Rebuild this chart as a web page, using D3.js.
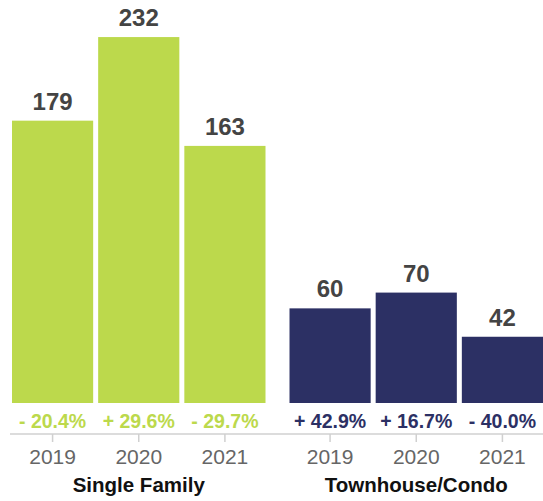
<!DOCTYPE html>
<html>
<head>
<meta charset="utf-8">
<script src="https://cdn.jsdelivr.net/npm/d3@7"></script>
<style>
  body { margin: 0; background: #fff; }
  svg { display: block; font-family: "Liberation Sans", Arial, Helvetica, sans-serif; }
</style>
</head>
<body>
<div class="viz"></div>
<script>
var groups = ["Single Family", "Townhouse/Condo"];
var years = ["2019", "2020", "2021"];
var singleFamily = [179, 232, 163];
var townhouse = [60, 70, 42];
var singleChange = ["- 20.4%", "+ 29.6%", "- 29.7%"];
var townChange = ["+ 42.9%", "+ 16.7%", "- 40.0%"];
var colors = ["#bcd94c", "#2c3064"];

var width = 543,
  height = 501,
  baseline = 403;

var svg = d3
  .select(".viz")
  .append("svg")
  .attr("width", width)
  .attr("height", height);

var data = groups.map(function (g, i) {
  return {
    group: g,
    color: colors[i],
    values: (i === 0 ? singleFamily : townhouse).map(function (v, j) {
      return { year: years[j], value: v, change: (i === 0 ? singleChange : townChange)[j] };
    }),
  };
});

var x0 = d3.scaleBand().domain(groups).range([12, 543]).paddingInner(0.0865);

var x1 = d3.scaleBand().domain(years).range([0, x0.bandwidth()]).paddingInner(0.058);

var y = d3.scaleLinear().domain([0, 255.5]).range([baseline, 0]);

// axis line across the bottom
svg
  .append("line")
  .attr("x1", 10)
  .attr("x2", width)
  .attr("y1", 434)
  .attr("y2", 434)
  .attr("stroke", "#d0d0d0")
  .attr("stroke-width", 1.5);

var g = svg
  .selectAll(".group")
  .data(data)
  .enter()
  .append("g")
  .attr("class", "group")
  .attr("transform", function (d) {
    return "translate(" + x0(d.group) + ",0)";
  });

g.selectAll("rect")
  .data(function (d) {
    return d.values.map(function (v) { return Object.assign({ color: d.color }, v); });
  })
  .enter()
  .append("rect")
  .attr("x", function (d) { return x1(d.year); })
  .attr("width", x1.bandwidth())
  .attr("y", function (d) { return y(d.value); })
  .attr("height", function (d) { return baseline - y(d.value); })
  .attr("fill", function (d) { return d.color; });

// value labels
g.selectAll(".val")
  .data(function (d) { return d.values; })
  .enter()
  .append("text")
  .attr("class", "val")
  .attr("x", function (d) { return x1(d.year) + x1.bandwidth() / 2; })
  .attr("y", function (d) { return y(d.value) - 11; })
  .attr("text-anchor", "middle")
  .style("font-size", "24px")
  .style("font-weight", "bold")
  .style("fill", "#444")
  .text(function (d) { return d.value; });

// percent change labels
g.selectAll(".chg")
  .data(function (d) {
    return d.values.map(function (v) { return Object.assign({ color: d.color }, v); });
  })
  .enter()
  .append("text")
  .attr("class", "chg")
  .attr("x", function (d) { return x1(d.year) + x1.bandwidth() / 2; })
  .attr("y", 428)
  .attr("text-anchor", "middle")
  .style("font-size", "19.5px")
  .style("font-weight", "bold")
  .style("fill", function (d) { return d.color; })
  .text(function (d) { return d.change; });

// year axis per group
g.append("g")
  .attr("transform", "translate(0,434)")
  .each(function () {
    d3.select(this)
      .call(d3.axisBottom(x1).tickSize(8).tickSizeOuter(0).tickPadding(6))
      .call(function (a) { a.select(".domain").remove(); })
      .call(function (a) {
        a.selectAll(".tick line").attr("stroke", "#d0d0d0").attr("stroke-width", 1.5);
        a.selectAll(".tick text")
          .attr("dy", null)
          .attr("y", 30)
          .style("font-size", "21px")
          .style("font-family", "\"Liberation Sans\", Arial, sans-serif")
          .style("fill", "#666");
      });
  });

// group labels
g.append("text")
  .attr("x", x0.bandwidth() / 2)
  .attr("y", 492)
  .attr("text-anchor", "middle")
  .style("font-size", "20.5px")
  .style("font-weight", "bold")
  .style("fill", "#111")
  .text(function (d) { return d.group; });
</script>
</body>
</html>
